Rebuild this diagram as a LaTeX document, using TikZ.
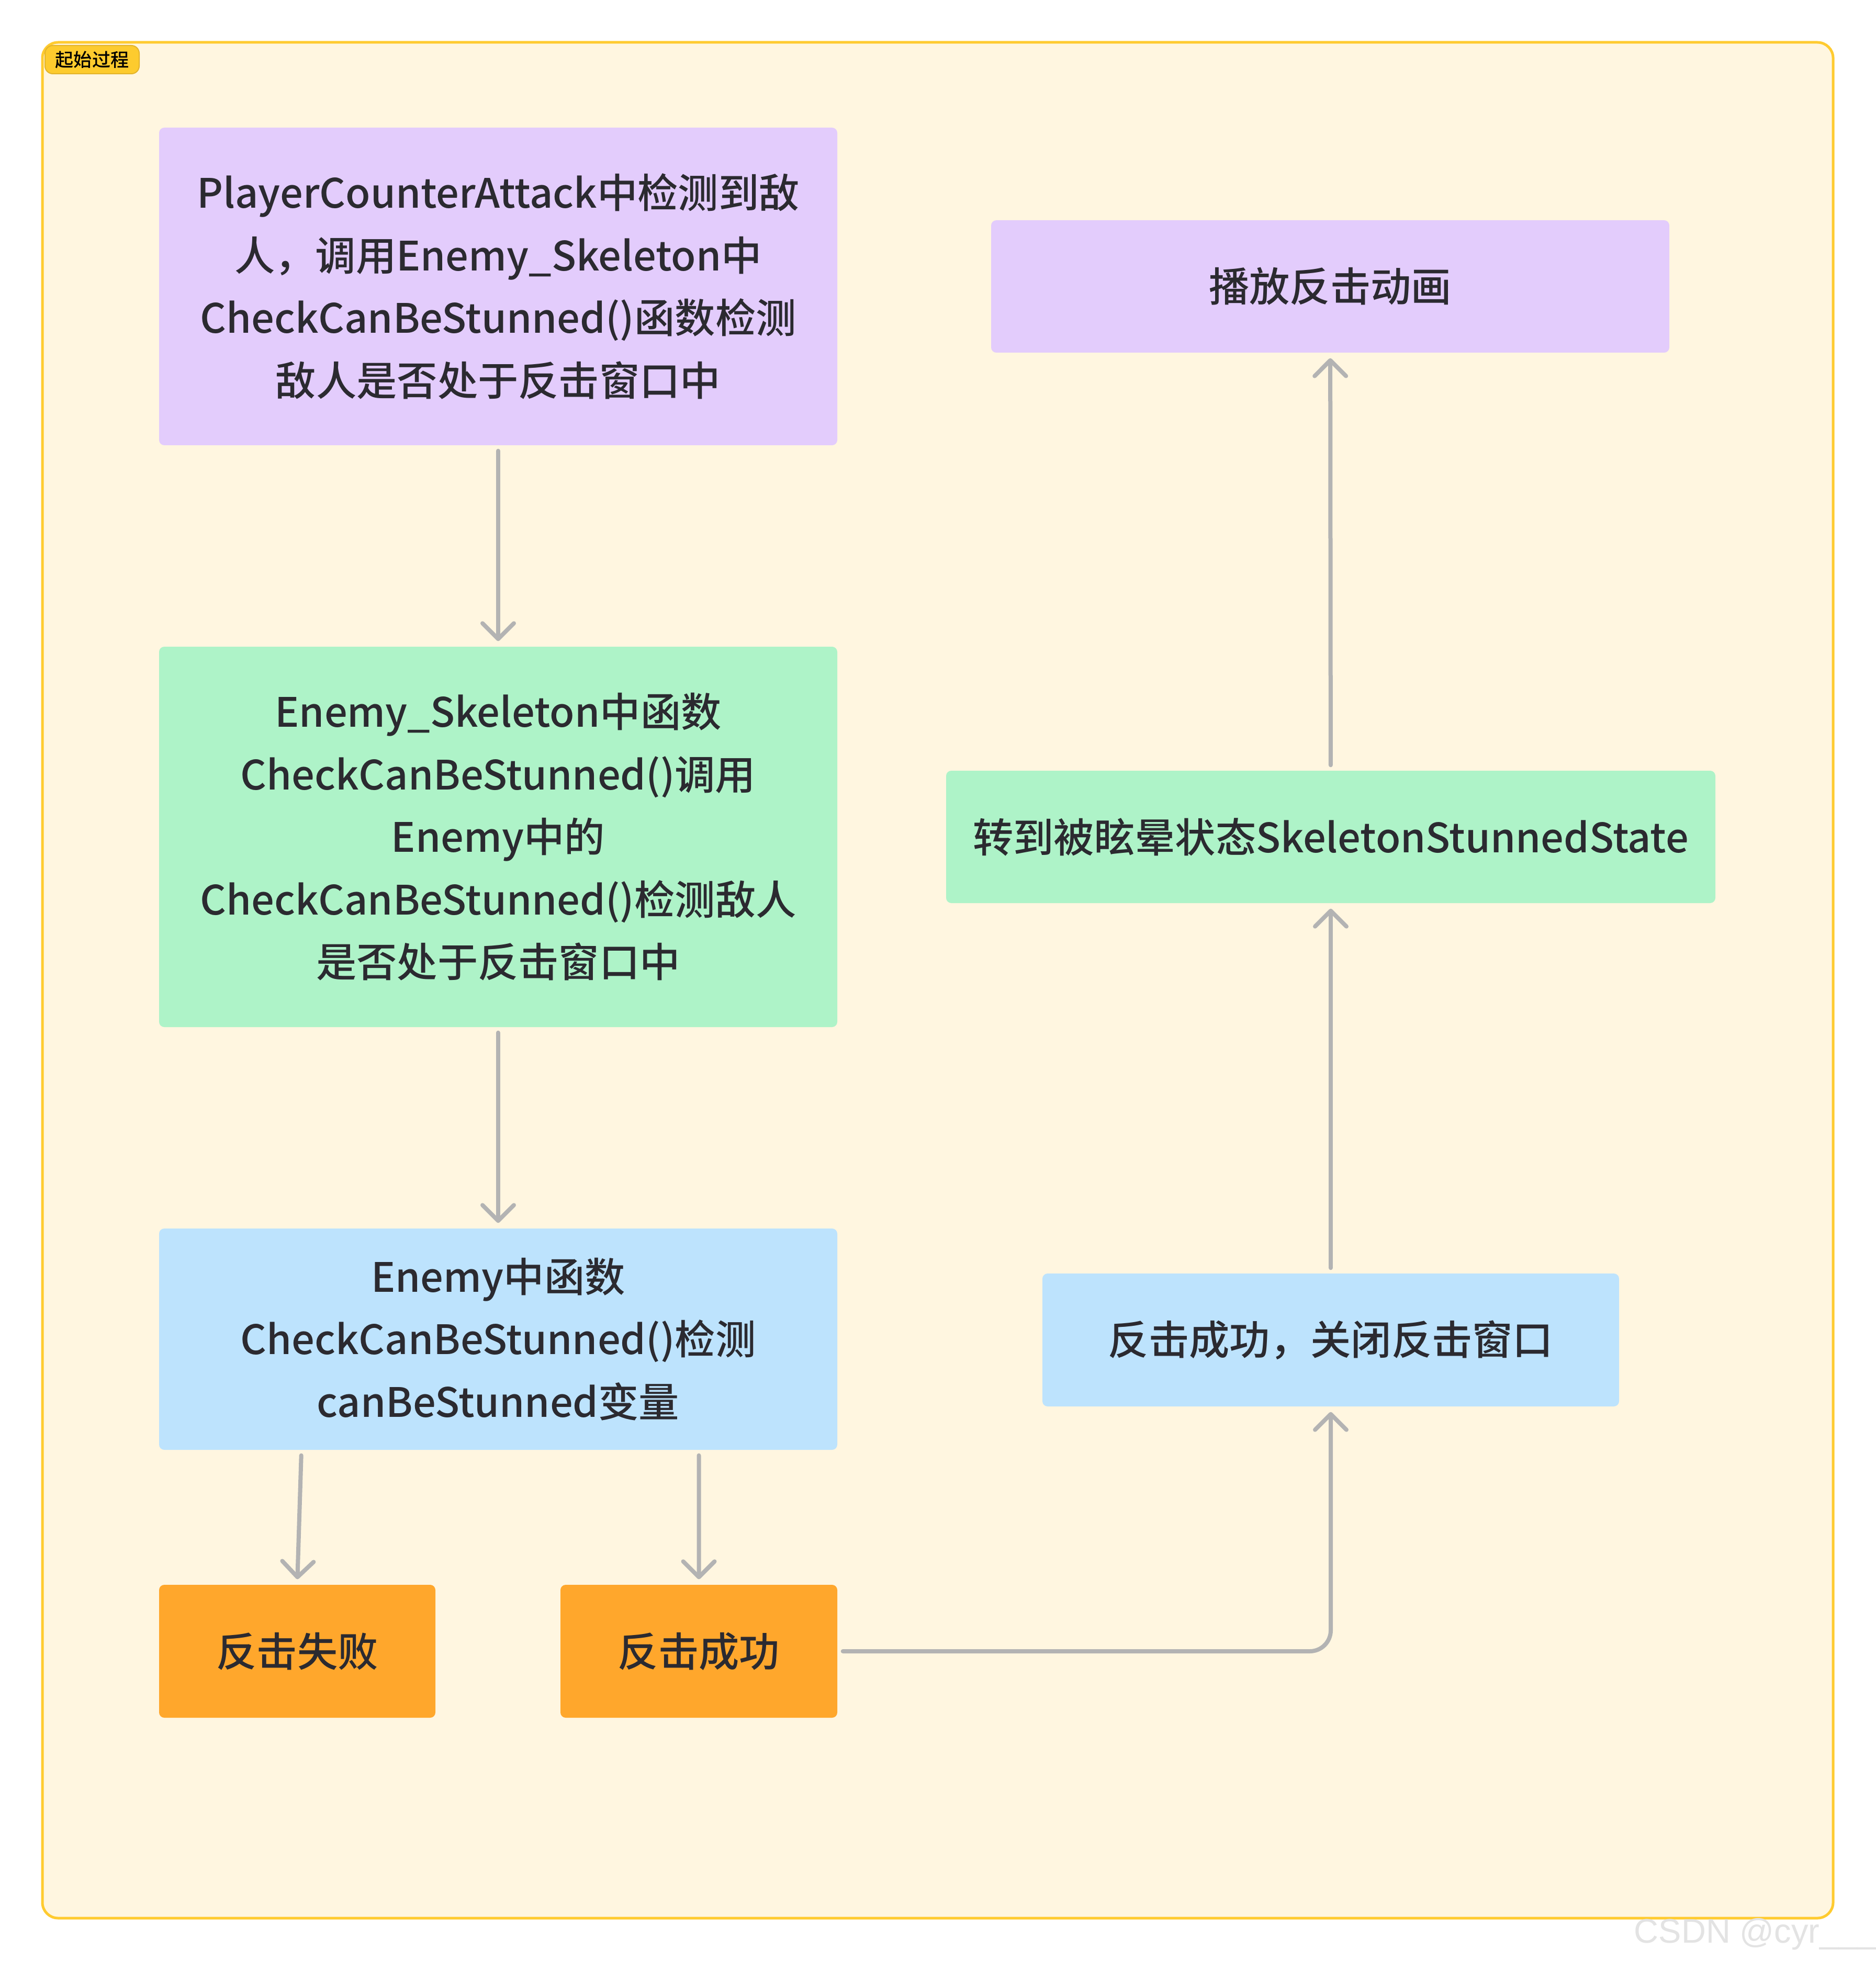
\documentclass[tikz,border=0pt]{standalone}
\usepackage{fontspec}
\setmainfont{Noto Sans CJK SC}[UprightFont={* Medium}]
\newfontfamily\markfont{Liberation Sans}
\usetikzlibrary{arrows.meta}
\definecolor{bgyellow}{HTML}{FFF6E0}
\definecolor{frameyellow}{HTML}{FFCB30}
\definecolor{tagyellow}{HTML}{FDCB2E}
\definecolor{tagedge}{HTML}{E3B42C}
\definecolor{boxpurple}{HTML}{E3CCFC}
\definecolor{boxgreen}{HTML}{AEF3C8}
\definecolor{boxblue}{HTML}{BDE3FD}
\definecolor{boxorange}{HTML}{FFA72C}
\definecolor{linkgray}{HTML}{B3B3B3}
\definecolor{textdark}{HTML}{2B2A30}

\begin{document}
\begin{tikzpicture}[
		box/.style={rounded corners=0.1cm, inner sep=0pt, align=center, text=textdark, font=\fontsize{22}{34}\selectfont},
		link/.style={draw=linkgray, line width=0.08cm, line cap=round, -{Straight Barb[length=0.3cm, width=0.6cm, round]}, shorten >=0.1cm, shorten <=0.1cm}
	]
		\useasboundingbox (0,0) rectangle (35.84,-37.48);
		\fill [white] (0,0) rectangle (35.84,-37.48);
		\draw [fill=bgyellow, draw=frameyellow, line width=0.05cm, rounded corners=0.3cm] (0.81,-0.81) rectangle (35.03,-36.66);
		\node [fill=tagyellow, draw=tagedge, line width=0.02cm, rounded corners=0.15cm, minimum width=1.8cm, minimum height=0.54cm, inner sep=0pt, font=\fontsize{10}{12}\selectfont] (tag) at (1.76,-1.14) {起始过程};
		\node [box, fill=boxpurple, minimum width=12.96cm, minimum height=6.07cm] (detect) at (9.52,-5.475) {PlayerCounterAttack中检测到敌\\人，调用Enemy\_Skeleton中\\CheckCanBeStunned()函数检测\\敌人是否处于反击窗口中};
		\node [box, fill=boxgreen, minimum width=12.96cm, minimum height=7.27cm] (skeleton) at (9.52,-15.995) {Enemy\_Skeleton中函数\\CheckCanBeStunned()调用\\Enemy中的\\CheckCanBeStunned()检测敌人\\是否处于反击窗口中};
		\node [box, fill=boxblue, minimum width=12.96cm, minimum height=4.23cm] (enemy) at (9.52,-25.595) {Enemy中函数\\CheckCanBeStunned()检测\\canBeStunned变量};
		\node [box, fill=boxorange, minimum width=5.28cm, minimum height=2.54cm] (fail) at (5.68,-31.56) {反击失败};
		\node [box, fill=boxorange, minimum width=5.29cm, minimum height=2.54cm] (success) at (13.355,-31.56) {反击成功};
		\node [box, fill=boxblue, minimum width=11.02cm, minimum height=2.54cm] (close) at (25.43,-25.61) {反击成功，关闭反击窗口};
		\node [box, fill=boxgreen, minimum width=14.70cm, minimum height=2.53cm] (stun) at (25.43,-15.995) {转到被眩晕状态SkeletonStunnedState};
		\node [box, fill=boxpurple, minimum width=12.96cm, minimum height=2.53cm] (play) at (25.42,-5.475) {播放反击动画};
		\draw [link] (detect) -- (skeleton);
		\draw [link] (skeleton) -- (enemy);
		\draw [link] ([xshift=-3.76cm]enemy.south) -- (fail.north);
		\draw [link] ([xshift=3.835cm]enemy.south) -- (success.north);
		\draw [link, rounded corners=0.4cm] (success.east) -| (close.south);
		\draw [link] (close) -- (stun);
		\draw [link] (stun) -- (play);
		\node [anchor=base west, inner sep=0pt, text=gray!22, font=\markfont\fontsize{18.5}{20}\selectfont] (mark) at (31.22,-37.13) {CSDN @cyr\_\_\_};
	\end{tikzpicture}
\end{document}
